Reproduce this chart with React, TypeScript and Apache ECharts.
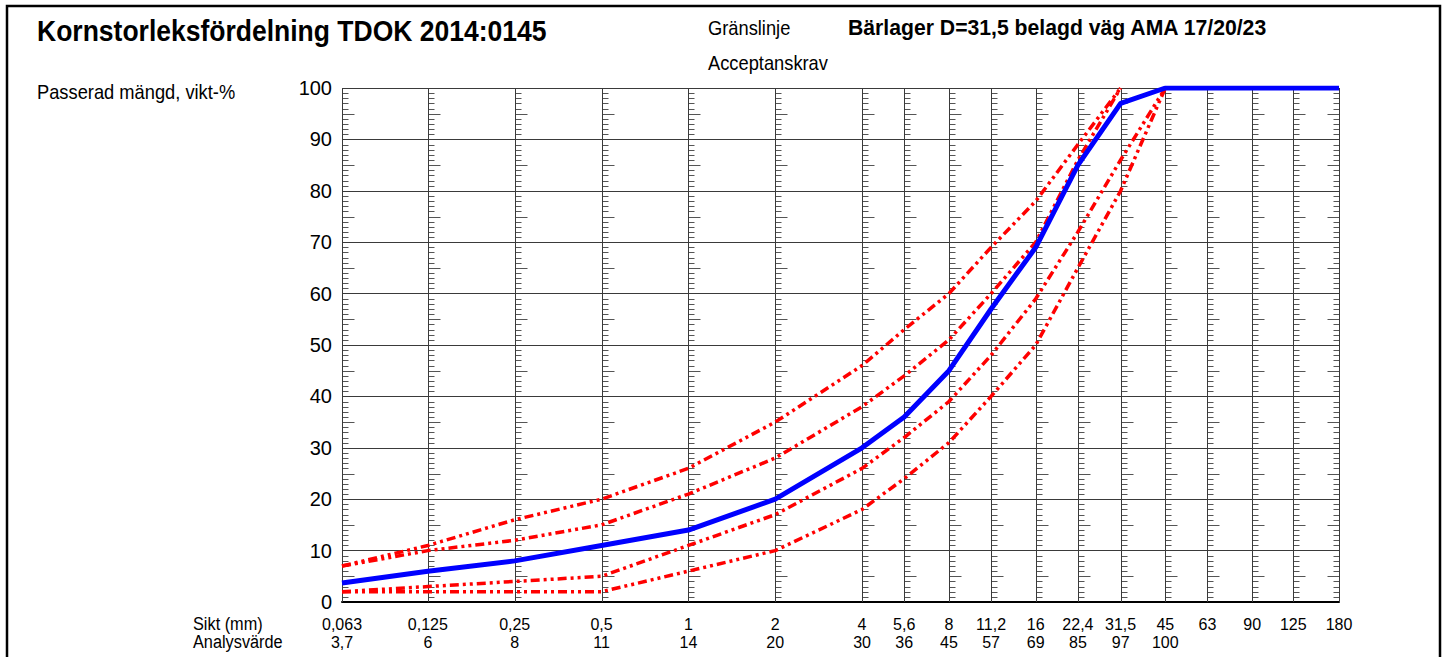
import React, { useEffect, useRef } from "react";
import * as echarts from "echarts";

// Sieve sizes (mm) and their tick labels
const sieveSizes = [0.063, 0.125, 0.25, 0.5, 1, 2, 4, 5.6, 8, 11.2, 16, 22.4, 31.5, 45, 63, 90, 125, 180];
const sieveLabels = ["0,063", "0,125", "0,25", "0,5", "1", "2", "4", "5,6", "8", "11,2", "16", "22,4", "31,5", "45", "63", "90", "125", "180"];
// Analysis values (passing %) shown below the axis
const analysisLabels = ["3,7", "6", "8", "11", "14", "20", "30", "36", "45", "57", "69", "85", "97", "100"];
// Measured curve (blue)
const passing = [3.7, 6, 8, 11, 14, 20, 30, 36, 45, 57, 69, 85, 97, 100, 100, 100, 100, 100];
// Limit curves (red)
const gransUpper = [7, 11, 16, 20, 26, 35, 46, 53, 60, 69, 78, 89, 100];
const acceptUpper = [7, 10, 12, 15, 21, 28, 38, 44, 51, 60, 70, 86, 100];
const acceptLower = [2, 3, 4, 5, 11, 17, 26, 32, 39, 48, 59, 72, 86, 100];
const gransLower = [2, 2, 2, 2, 6, 10, 18, 24, 31, 40, 50, 65, 80, 100];
const yTicks = { min: 0, max: 100, interval: 10 };

const FONT = '"Liberation Sans", Arial, sans-serif';

const pairs = (vals: number[]) => vals.map((v, i) => [sieveSizes[i], v]);

export default function App() {
  const ref = useRef<HTMLDivElement>(null);
  useEffect(() => {
    if (!ref.current) return;
    const chart = echarts.init(ref.current, null, { renderer: "svg" });
    const redStyle = {
      color: "#ff0000",
      width: 3.5,
      type: [9, 4, 3, 4, 3, 4] as any,
      cap: "butt" as any,
    };
    const redSeries = (name: string, vals: number[]) => ({
      type: "line",
      name,
      data: pairs(vals),
      showSymbol: false,
      symbol: "none",
      lineStyle: redStyle,
      z: 3,
      silent: true,
    });
    const txt = (text: string, x: number, y: number, font: string) => ({
      type: "text",
      x,
      y,
      scaleY: 1.08,
      style: { text, font, fill: "#000", textVerticalAlign: "middle", verticalAlign: "middle" },
    });
    const option: any = {
      animation: false,
      backgroundColor: "#ffffff",
      grid: { left: 342, right: 109, top: 88, bottom: 55 },
      xAxis: {
        type: "log",
        logBase: 2,
        min: sieveSizes[0],
        max: sieveSizes[sieveSizes.length - 1],
        axisLine: { show: true, lineStyle: { color: "#000", width: 2 } },
        axisTick: { show: false },
        axisLabel: { show: false },
        splitLine: { show: false },
      },
      yAxis: {
        type: "value",
        min: yTicks.min,
        max: yTicks.max,
        interval: yTicks.interval,
        axisLine: { show: false },
        axisTick: { show: false },
        axisLabel: { color: "#000", fontSize: 20, fontFamily: FONT, margin: 10 },
        splitLine: { show: true, lineStyle: { color: "#3a3a3a", width: 1 } },
      },
      graphic: [
        { type: "rect", shape: { x: 7, y: 6, width: 1433, height: 660 }, style: { fill: "none", stroke: "#000", lineWidth: 2.5 } },
        txt("Kornstorleksfördelning TDOK 2014:0145", 37, 31, `bold 26.5px ${FONT}`),
        txt("Bärlager D=31,5 belagd väg AMA 17/20/23", 848, 27, `bold 21.2px ${FONT}`),
        txt("Gränslinje", 708, 28, `18.3px ${FONT}`),
        txt("Acceptanskrav", 708, 63, `18.3px ${FONT}`),
        txt("Passerad mängd, vikt-%", 37, 92, `18.3px ${FONT}`),
        txt("Sikt (mm)", 193, 624, `16.3px ${FONT}`),
        txt("Analysvärde", 193, 642, `16.3px ${FONT}`),
      ],
      series: [
        {
          type: "custom",
          silent: true,
          clip: false,
          z: 1,
          data: sieveSizes.map((s, i) => [s, i]),
          renderItem: (params: any, api: any) => {
            const size = api.value(0);
            const idx = api.value(1);
            const base = api.coord([size, 0]);
            const top = api.coord([size, 100]);
            const x = Math.round(base[0]) + 0.5;
            const children: any[] = [
              { type: "line", shape: { x1: x, y1: top[1], x2: x, y2: base[1] }, style: { stroke: "#3a3a3a", lineWidth: 1 } },
            ];
            const dir = idx === sieveSizes.length - 1 ? -1 : 1;
            for (let v = 1; v < 100; v++) {
              if (v % 10 === 0) continue;
              const y = Math.round(api.coord([size, v])[1]) + 0.5;
              const len = v % 5 === 0 ? 12 : 6;
              children.push({
                type: "line",
                shape: { x1: x + dir * 0.5, y1: y, x2: x + dir * len, y2: y },
                style: { stroke: "#555", lineWidth: 1 },
              });
            }
            children.push({
              type: "text",
              x: base[0],
              y: base[1] + 22,
              style: { text: sieveLabels[idx], font: `16px ${FONT}`, fill: "#000", textAlign: "center", align: "center", textVerticalAlign: "middle", verticalAlign: "middle" },
            });
            if (idx < analysisLabels.length) {
              children.push({
                type: "text",
                x: base[0],
                y: base[1] + 40,
                style: { text: analysisLabels[idx], font: `16px ${FONT}`, fill: "#000", textAlign: "center", align: "center", textVerticalAlign: "middle", verticalAlign: "middle" },
              });
            }
            return { type: "group", children };
          },
        },
        redSeries("Gränslinje övre", gransUpper),
        redSeries("Acceptanskrav övre", acceptUpper),
        redSeries("Acceptanskrav undre", acceptLower),
        redSeries("Gränslinje undre", gransLower),
        {
          type: "line",
          name: "Analysvärde",
          data: pairs(passing),
          showSymbol: false,
          symbol: "none",
          lineStyle: { color: "#0000ff", width: 5 },
          z: 4,
          silent: true,
        },
      ],
    };
    chart.setOption(option);
    return () => chart.dispose();
  }, []);
  return (
    <div
      ref={ref}
      style={{ position: "absolute", left: 0, top: 0, width: 1448, height: 657, background: "#fff" }}
    />
  );
}
